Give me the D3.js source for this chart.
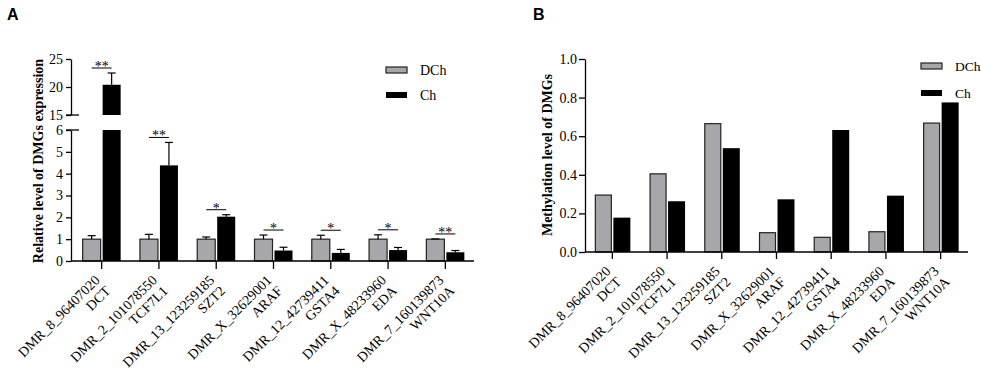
<!DOCTYPE html>
<html lang="en">
<head>
    <meta charset="UTF-8">
    <title>DMGs expression and methylation</title>
    <script src="https://d3js.org/d3.v7.min.js"></script>
    <style>
        body { margin: 0; background: #fff; }
    </style>
</head>
<body>
    <svg width="981" height="370"></svg>

    <script>
        // categories: two-line tick labels
        const dmrs = ["DMR_8_96407020", "DMR_2_101078550", "DMR_13_123259185", "DMR_X_32629001",
                      "DMR_12_42739411", "DMR_X_48233960", "DMR_7_160139873"];
        const genes = ["DCT", "TCF7L1", "SZT2", "ARAF", "GSTA4", "EDA", "WNT10A"];
        const series = ["DCh", "Ch"];

        // panel A: relative expression (mean, mean + error)
        const exprDCh = [1, 1, 1, 1, 1, 1, 1];
        const exprDChErr = [1.16, 1.22, 1.1, 1.19, 1.18, 1.2, 1.01];
        const exprCh = [20.4, 4.38, 2.03, 0.48, 0.37, 0.5, 0.4];
        const exprChErr = [22.5, 5.43, 2.12, 0.63, 0.53, 0.62, 0.48];
        const signif = ["**", "**", "*", "*", "*", "*", "**"];

        // panel B: methylation level
        const methDCh = [0.295, 0.405, 0.665, 0.1, 0.076, 0.105, 0.668];
        const methCh = [0.178, 0.263, 0.538, 0.273, 0.632, 0.292, 0.775];

        const grey = "#a7a7ab";
        const serif = "'Liberation Serif', 'Times New Roman', serif";
        const svg = d3.select("svg");

        svg.append("text").attr("x", 7).attr("y", 20)
            .attr("font-family", "'Liberation Sans', Arial, sans-serif")
            .attr("font-weight", "bold").attr("font-size", 16).text("A");
        svg.append("text").attr("x", 533).attr("y", 20)
            .attr("font-family", "'Liberation Sans', Arial, sans-serif")
            .attr("font-weight", "bold").attr("font-size", 16).text("B");

        function styleAxis(a) {
            a.attr("font-family", serif).attr("font-size", 14);
            a.selectAll("text").attr("font-family", serif).attr("font-size", 14).attr("fill", "#000");
            a.selectAll("path, line").attr("stroke", "#000").attr("stroke-width", 1.3);
        }

        // ---------- panel A ----------
        const xA = d3.scaleBand().domain(genes).range([73, 474]);
        const yLow = d3.scaleLinear().domain([0, 6]).range([261, 130]);
        const yHigh = d3.scaleLinear().domain([15, 25]).range([115, 59]);
        const yA = v => v <= 6 ? yLow(v) : yHigh(v);
        const axA = 71, barW = 18;

        const gA = svg.append("g");

        genes.forEach((g, i) => {
            const c = xA(g) + xA.bandwidth() / 2;
            // DCh
            gA.append("rect").attr("x", c - 1 - barW).attr("y", yA(exprDCh[i]))
                .attr("width", barW).attr("height", yLow(0) - yA(exprDCh[i]))
                .attr("fill", grey).attr("stroke", "#222").attr("stroke-width", 1.2);
            // Ch (broken when above 6)
            const v = exprCh[i];
            if (v > 6) {
                gA.append("rect").attr("x", c + 1).attr("y", yLow(6))
                    .attr("width", barW).attr("height", yLow(0) - yLow(6)).attr("fill", "#000");
                gA.append("rect").attr("x", c + 1).attr("y", yHigh(v))
                    .attr("width", barW).attr("height", yHigh(15) - yHigh(v)).attr("fill", "#000");
            } else {
                gA.append("rect").attr("x", c + 1).attr("y", yA(v))
                    .attr("width", barW).attr("height", yLow(0) - yA(v)).attr("fill", "#000");
            }
            // error bars
            [[c - 1 - barW / 2, exprDCh[i], exprDChErr[i]], [c + 1 + barW / 2, v, exprChErr[i]]].forEach(([x, m, e]) => {
                gA.append("line").attr("x1", x).attr("x2", x).attr("y1", yA(m)).attr("y2", yA(e))
                    .attr("stroke", "#000").attr("stroke-width", 1.2);
                gA.append("line").attr("x1", x - 4).attr("x2", x + 4).attr("y1", yA(e)).attr("y2", yA(e))
                    .attr("stroke", "#000").attr("stroke-width", 1.2);
            });
            // significance
            const sy = Math.min(yA(exprDChErr[i]), yA(exprChErr[i])) - 5;
            gA.append("line").attr("x1", c - 1 - barW / 2).attr("x2", c + 1 + barW / 2)
                .attr("y1", sy).attr("y2", sy).attr("stroke", "#000").attr("stroke-width", 1);
            gA.append("text").attr("x", c).attr("y", sy + 3).attr("text-anchor", "middle")
                .attr("font-family", serif).attr("font-size", 14).text(signif[i]);
        });

        // y axes (broken)
        const axLow = gA.append("g").attr("transform", `translate(${axA},0)`)
            .call(d3.axisLeft(yLow).tickValues([0, 1, 2, 3, 4, 5, 6]).tickFormat(d3.format("d"))
                .tickSize(5).tickPadding(3).tickSizeOuter(0));
        const axHigh = gA.append("g").attr("transform", `translate(${axA},0)`)
            .call(d3.axisLeft(yHigh).tickValues([15, 20, 25]).tickFormat(d3.format("d"))
                .tickSize(5).tickPadding(3).tickSizeOuter(0));
        styleAxis(axLow);
        styleAxis(axHigh);
        // break marks
        [yHigh(15), yLow(6)].forEach(y => {
            gA.append("line").attr("x1", axA - 5).attr("x2", axA + 8).attr("y1", y).attr("y2", y)
                .attr("stroke", "#000").attr("stroke-width", 1.3);
        });

        // x axis
        const xAxA = gA.append("g").attr("transform", `translate(0,${yLow(0)})`)
            .call(d3.axisBottom(xA).tickSize(8).tickFormat(""));
        xAxA.select(".domain").attr("d", `M${axA},0H474`);
        styleAxis(xAxA);

        gA.append("text").attr("transform", `translate(43,161) rotate(-90)`).attr("text-anchor", "middle")
            .attr("font-family", serif).attr("font-weight", "bold").attr("font-size", 14)
            .text("Relative level of DMGs expression");

        // ---------- panel B ----------
        const xB = d3.scaleBand().domain(genes).range([585, 968]);
        const yB = d3.scaleLinear().domain([0, 1]).range([252, 59]);
        const axB = 585, bW = 16;
        const gB = svg.append("g");

        genes.forEach((g, i) => {
            const c = xB(g) + xB.bandwidth() / 2;
            gB.append("rect").attr("x", c - 1 - bW).attr("y", yB(methDCh[i]))
                .attr("width", bW).attr("height", yB(0) - yB(methDCh[i]))
                .attr("fill", grey).attr("stroke", "#222").attr("stroke-width", 1.2);
            gB.append("rect").attr("x", c + 1).attr("y", yB(methCh[i]))
                .attr("width", bW + 1).attr("height", yB(0) - yB(methCh[i])).attr("fill", "#000");
        });

        const yAxB = gB.append("g").attr("transform", `translate(${axB},0)`)
            .call(d3.axisLeft(yB).tickValues([0, 0.2, 0.4, 0.6, 0.8, 1]).tickFormat(d3.format(".1f"))
                .tickSize(6).tickPadding(2).tickSizeOuter(0));
        const xAxB = gB.append("g").attr("transform", `translate(0,${yB(0)})`)
            .call(d3.axisBottom(xB).tickSize(7).tickFormat(""));
        xAxB.select(".domain").attr("d", `M${axB},0H968`);
        styleAxis(yAxB);
        styleAxis(xAxB);

        gB.append("text").attr("transform", `translate(552,155) rotate(-90)`).attr("text-anchor", "middle")
            .attr("font-family", serif).attr("font-weight", "bold").attr("font-size", 14)
            .text("Methylation level of DMGs");

        // ---------- rotated two-line category labels ----------
        function catLabels(g, x, y0) {
            genes.forEach((gn, i) => {
                const c = x(gn) + x.bandwidth() / 2;
                const t = g.append("text").attr("text-anchor", "end")
                    .attr("font-family", serif).attr("font-size", 14)
                    .attr("transform", `translate(${c - 1},${y0 + 20}) rotate(-45)`);
                t.append("tspan").attr("x", 0).attr("dy", 0).text(dmrs[i]);
                t.append("tspan").attr("x", 0).attr("dy", "1.08em").text(gn);
            });
        }
        catLabels(gA, xA, yLow(0));
        catLabels(gB, xB, yB(0));

        // ---------- legends ----------
        function legend(x, y1, y2, fs) {
            const l = svg.append("g").attr("font-family", serif).attr("font-size", fs);
            l.append("rect").attr("x", x).attr("y", y1).attr("width", 21).attr("height", 6)
                .attr("fill", grey).attr("stroke", "#222").attr("stroke-width", 1.2);
            l.append("rect").attr("x", x).attr("y", y2).attr("width", 21).attr("height", 6).attr("fill", "#000");
            l.append("text").attr("x", x + 34).attr("y", y1 + 8).text(series[0]);
            l.append("text").attr("x", x + 34).attr("y", y2 + 8).text(series[1]);
        }
        legend(386, 67, 92, 14);
        legend(921, 63, 90, 13.5);
    </script>
</body>
</html>
